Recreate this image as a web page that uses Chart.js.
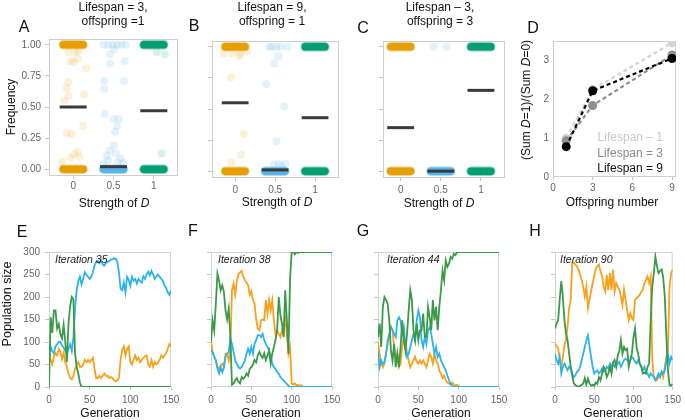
<!DOCTYPE html>
<html><head><meta charset="utf-8">
<script src="https://cdn.jsdelivr.net/npm/chart.js@4.4.1/dist/chart.umd.min.js"></script>
<style>
html,body{margin:0;padding:0;background:#fff;}
#wrap{position:relative;width:685px;height:420px;overflow:hidden;background:#fff;font-family:"Liberation Sans",Arial,Helvetica,sans-serif;}
#wrap canvas{position:absolute;left:0;top:0;}
.tx{position:absolute;white-space:nowrap;line-height:1;color:#111;}
</style></head><body><div id="wrap"></div>
<script>
// ---------- DATA ----------
const strengthLabels = ["0","0.5","1"];
const freqTicks = [0,0.25,0.5,0.75,1];
const freqLabels = ["0.00","0.25","0.50","0.75","1.00"];

// Panel A (Lifespan = 3, offspring = 1): levels with dense points, faint points [jitter, freq], means
const A_dense = [[0,1],[0],[0,1]];
const A_orange = [[-0.12,0.94],[0.05,0.94],[0.13,0.95],[-0.07,0.87],[0.02,0.86],[0.11,0.89],[0.32,0.81],[-0.12,0.70],[-0.16,0.65],[-0.12,0.59],[-0.22,0.55],[0.27,0.60],[0.25,0.35],[-0.16,0.29],[-0.04,0.28],[0.11,0.14],[0.02,0.12],[-0.07,0.09],[0.16,0.10],[-0.27,0.06]];
const A_blue = [[-0.25,1],[-0.13,1],[-0.02,1],[0.09,1],[0.2,1],[0.3,1],[0.02,0.965],[-0.09,0.925],[-0.09,0.85],[0.28,0.87],[-0.23,0.71],[-0.23,0.645],[0.26,0.71],[-0.21,0.445],[0.0,0.405],[0.14,0.405],[0.09,0.35],[0.04,0.30],[0.01,0.19],[-0.09,0.15],[0.06,0.125],[-0.17,0.11],[0.18,0.085],[-0.13,0.07],[0.1,0.055],[-0.25,0.045],[0.24,0.05]];
const A_green = [[0.07,0.94],[0.27,0.925],[0.19,0.125]];
const A_means = [0.50,0.02,0.47];

// Panel B (Lifespan = 9, offspring = 1)
const B_dense = [[0,1],[0],[0,1]];
const B_orange = [[-0.29,0.947],[-0.08,0.947],[0.12,0.947],[0.29,0.96],[0.11,0.925],[-0.1,0.755],[0.21,0.30],[0.15,0.133],[-0.1,0.07]];
const B_blue = [[-0.15,1],[-0.08,1],[0.04,1],[0.14,1],[0.31,1],[0.08,0.925],[-0.02,0.867],[-0.22,0.70],[0.23,0.52],[0.04,0.24],[-0.04,0.053],[0.08,0.06],[0.25,0.06],[0.16,0.04]];
const B_green = [];
const B_means = [0.55,0.01,0.43];

// Panel C (Lifespan = 3, offspring = 3)
const C_dense = [[0,1],[0],[0,1]];
const C_orange = [];
const C_blue = [[-0.18,1],[0.15,1]];
const C_green = [];
const C_means = [0.35,0.0,0.65];

// Panel D
const offspring = [1,3,9];
const D_life1 = [1.00,2.25,3.45];
const D_life3 = [0.93,1.84,3.14];
const D_life9 = [0.78,2.22,3.05];
const D_names = ["Lifespan \u2013 1","Lifespan = 3","Lifespan = 9"];

// Panels E-H: population size by generation
const gens = [0,2,4,6,8,10,12,14,16,18,20,22,24,26,28,30,32,34,36,38,40,42,44,46,48,50,52,54,56,58,60,62,64,66,68,70,72,74,76,78,80,82,84,86,88,90,92,94,96,98,100,102,104,106,108,110,112,114,116,118,120,122,124,126,128,130,132,134,136,138,140,142,144,146,148,150];

const E_orange = [80,60,50,68,75,70,85,80,62,75, 55,45,30,20,17,25,40,50,55,45, 45,50,60,55,60,55,60,65,40,20, 20,25,20,25,30,25,25,20,22,20, 15,13,15,20,60,82,90,70,85,90, 55,50,60,70,60,65,55,60,65,68, 70,50,45,60,45,55,50,55,60,70, 65,70,75,85,95,90];
const E_blue = [70,90,80,75,90,95,100,100,92,88, 80,75,85,95,80,110,175,215,235,245, 228,240,255,250,245,240,245,255,270,278, 280,275,282,272,270,276,278,280,283,284, 286,285,278,255,218,215,232,210,245,238, 225,245,236,240,230,240,235,232,246,240, 250,256,248,258,250,240,246,250,245,240, 236,226,220,210,205,215];
const E_green = [0,155,120,170,170,130,140,118,108,138, 100,55,140,180,200,195,75,45,30,10, 0,0,0,0,0,0,0,0,0,0, 0,0,0,0,0,0,0,0,0,0, 0,0,0,0,0,0,0,0,0,0, 0,0,0,0,0,0,0,0,0,0, 0,0,0,0,0,0,0,0,0,0, 0,0,0,0,0,0];

const F_orange = [107,74,67,59,44,41,48,52,45,74, 74,59,80,215,230,205,235,250,255,258, 245,238,232,226,205,212,193,185,150,130, 126,148,150,148,193,163,193,170,193,148, 115,126,118,111,126,118,159,118,74,89, 8,5,8,3,5,2,4,0,0,0, 0,0,0,0,0,0,0,0,0,0, 0,0,0,0,0,0];
const F_blue = [81,78,67,60,41,30,44,33,44,67, 74,78,107,96,78,59,52,44,41,44, 52,59,74,85,74,89,74,96,104,115, 115,111,118,104,96,89,81,67,52,44, 40,33,30,22,18,15,10,7,3,0, 0,0,0,0,0,0,0,0,0,0, 0,0,0,0,0,0,0,0,0,0, 0,0,0,0,0,0];
const F_green = [100,148,126,185,252,237,215,226,211,170, 150,174,111,5,8,15,20,12,8,22, 18,22,30,25,40,44,50,60,55,70, 78,70,65,75,60,70,81,52,75,89, 105,126,200,160,140,111,215,150,74,240, 300,300,295,300,298,300,300,300,300,300, 300,300,300,300,300,300,300,300,300,300, 300,300,300,300,300,300];

const G_orange = [100,74,52,44,52,74,96,118,135,126, 89,59,74,44,52,89,111,104,74,59, 44,52,59,67,56,52,59,52,59,52, 44,59,74,67,52,74,59,52,37,30, 20,25,15,10,8,5,10,6,3,5, 2,0,0,0,0,0,0,0,0,0, 0,0,0,0,0,0,0,0,0,0, 0,0,0,0,0,0];
const G_blue = [81,44,59,52,56,74,104,118,133,126, 118,111,148,155,148,118,133,89,67,74, 89,104,118,104,148,170,155,104,89,111, 96,126,133,118,96,74,89,67,74,59, 52,44,37,25,15,7,3,0,0,0, 0,0,0,0,0,0,0,0,0,0, 0,0,0,0,0,0,0,0,0,0, 0,0,0,0,0,0];
const G_green = [111,141,89,178,200,193,185,148,81,59, 96,44,74,44,89,148,104,81,118,170, 215,193,126,104,141,104,126,126,163,111, 111,178,155,126,193,148,178,126,178,215, 259,237,281,267,274,289,285,296,293,300, 300,300,300,300,300,300,300,300,300,300, 300,300,300,300,300,300,300,300,300,300, 300,300,300,300,300,300];

const H_orange = [97,91,86,60,45,67,93,104,134,175, 194,276,276,272,268,261,249,238,223,201, 223,175,194,212,231,246,264,268,272,257, 246,223,212,249,216,253,216,261,212,231, 223,216,201,182,216,194,171,149,164,153, 149,194,197,201,205,212,216,231,238,246, 231,246,60,22,15,15,22,26,33,22, 45,67,82,223,253,261];
const H_blue = [74,60,52,67,30,45,52,45,37,45, 41,30,22,26,34,37,45,60,74,89, 104,115,89,67,45,30,34,37,30,34, 41,34,37,45,41,52,45,52,45,48, 52,56,45,52,60,63,60,56,60,67, 63,56,52,60,52,45,37,45,34,30, 22,30,26,22,15,22,30,22,34,30, 37,60,74,52,67,60];
const H_green = [130,141,149,194,235,201,149,119,104,74, 45,25,8,4,2,0,3,5,8,20, 5,19,8,3,5,3,10,7,22,15, 30,45,40,22,30,45,30,55,60,45, 70,80,104,74,89,82,85,45,60,74, 110,130,89,74,52,45,30,32,30,45, 52,149,223,253,290,268,253,258,261,242, 200,112,37,4,3,7];

const popTicks = [0,50,100,150,200,250,300];
const genTicks = [0,50,100,150];

// ---------- RENDERING ----------
const W = 685, H = 420;
const wrap = document.getElementById('wrap');
const TICKFONT = {family:'"Liberation Sans", Arial, sans-serif', size:10};
const TICKCOL = '#666666';

function addCanvas(){
  const c = document.createElement('canvas');
  c.width = W; c.height = H; c.style.width = W+'px'; c.style.height = H+'px';
  wrap.appendChild(c); return c.getContext('2d');
}
const frame = {
  id:'frame',
  beforeDatasetsDraw(ch, args, opts){
    const a = ch.chartArea, ctx = ch.ctx;
    ctx.save(); ctx.strokeStyle = opts.color || '#cfcfcf'; ctx.lineWidth = 1;
    ctx.strokeRect(a.left+0.5, a.top+0.5, a.right-a.left-1, a.bottom-a.top-1);
    ctx.restore();
  }
};
const YW = 30, XH = 20;
function pad(box){ return {left:box.l-YW, top:box.t, right:W-box.r, bottom:H-box.b-XH}; }
function axis(min, max, vals, labels, isY, tl, tp){
  const o = {
    type:'linear', min:min, max:max,
    afterBuildTicks: s => { s.ticks = vals.map(v => ({value:v})); },
    ticks:{ callback:(v,i) => labels ? labels[i] : '', font:TICKFONT, color:TICKCOL, padding:tp, autoSkip:false, maxRotation:0, minRotation:0 },
    grid:{ display:true, drawOnChartArea:false, tickLength:tl, color:'#c4c4c4' },
    border:{ display:false }
  };
  if (isY) o.afterFit = s => { s.width = YW; }; else o.afterFit = s => { s.height = XH; };
  return o;
}
function baseOpts(box, scales, frameCol){
  return {
    responsive:false, animation:false, devicePixelRatio:1, events:[],
    layout:{ padding: pad(box) },
    plugins:{ legend:{display:false}, tooltip:{enabled:false}, title:{display:false}, frame:{color:frameCol} },
    scales: scales
  };
}

const stripCol = ['#E69F00','#56B4E9','#009E73'];
const stripFaint = ['rgba(230,159,0,0.15)','rgba(86,180,233,0.17)','rgba(0,158,115,0.15)'];
const stripHalo = ['rgba(230,159,0,0.45)','rgba(86,180,233,0.5)','rgba(0,158,115,0.45)'];
const PILL = 0.245, MEANW = 0.335;

function stripChart(box, xmin, dense, faint, means, showY, xtp){
  const ds = [];
  faint.forEach((pts,c) => ds.push({ data: pts.map(p => ({x:c+p[0], y:p[1]})), showLine:false, pointRadius:4, pointBorderWidth:0, pointBackgroundColor:stripFaint[c], order:3 }));
  dense.forEach((levels,c) => levels.forEach(v => {
    const seg = [{x:c-PILL,y:v},{x:c+PILL,y:v}];
    ds.push({ data:seg, showLine:true, borderColor:stripHalo[c], borderWidth:9.5, borderCapStyle:'round', pointRadius:0, order:2 });
    ds.push({ data:seg, showLine:true, borderColor:stripCol[c], borderWidth:7.5, borderCapStyle:'round', pointRadius:0, order:1 });
  }));
  means.forEach((m,c) => ds.push({ data:[{x:c-MEANW,y:m},{x:c+MEANW,y:m}], showLine:true, borderColor:'#3a3a3a', borderWidth:3, borderCapStyle:'butt', pointRadius:0, order:0 }));
  new Chart(addCanvas(), {
    type:'scatter', data:{ datasets: ds }, plugins:[frame],
    options: baseOpts(box, {
      x: axis(xmin, 2.6, [0,1,2], strengthLabels, false, 3, xtp),
      y: axis(-0.055, 1.047, freqTicks, showY ? freqLabels : null, true, 4, 4)
    }, '#cfcfcf')
  });
}

stripChart({l:49,r:178,t:39,b:176}, -0.6, A_dense, [A_orange,A_blue,A_green], A_means, true, 1);
stripChart({l:212,r:339,t:41,b:178}, -0.58, B_dense, [B_orange,B_blue,B_green], B_means, false, 3);
stripChart({l:383,r:505,t:41,b:178}, -0.44, C_dense, [C_orange,C_blue,C_green], C_means, false, 3);

// Panel D
(function(){
  const cols = ['#d4d4d4','#8e8e8e','#000000'];
  const series = [D_life1, D_life3, D_life9];
  const ds = series.map((s,i) => ({
    data: s.map((v,j) => ({x:offspring[j], y:v})), showLine:true,
    borderColor:cols[i], borderWidth:2.2, borderDash:[4,3],
    pointRadius:4.5, pointBackgroundColor:cols[i], pointBorderWidth:0, order:2-i
  }));
  new Chart(addCanvas(), {
    type:'scatter', data:{datasets:ds}, plugins:[frame],
    options: baseOpts({l:553,r:676,t:41,b:177}, {
      x: axis(0, 9.3, [0,3,6,9], ["0","3","6","9"], false, 3, 2),
      y: axis(0, 3.5, [0,1,2,3], ["0","1","2","3"], true, 0, 4)
    }, '#cfcfcf')
  });
})();

// Panels E-H
const lineCol = {orange:'#F9A11B', blue:'#2AB3EE', green:'#3A9A48'};
function popChart(box, orange, blue, green, showY){
  const mk = (arr, col, ord) => ({ data: arr.map((v,i) => ({x:gens[i], y:v})), showLine:true, borderColor:col, borderWidth:1.8, pointRadius:0, order:ord });
  new Chart(addCanvas(), {
    type:'scatter', data:{ datasets:[ mk(green,lineCol.green,0), mk(blue,lineCol.blue,1), mk(orange,lineCol.orange,2) ] }, plugins:[frame],
    options: baseOpts(box, {
      x: axis(0, 150, genTicks, ["0","50","100","150"], false, 3, 4),
      y: axis(0, 300, popTicks, showY ? ["0","50","100","150","200","250","300"] : null, true, 4, 5)
    }, '#d2d2d2')
  });
}
popChart({l:49,r:171,t:252,b:387}, E_orange, E_blue, E_green, true);
popChart({l:211,r:332,t:252,b:387}, F_orange, F_blue, F_green, false);
popChart({l:378,r:499,t:252,b:387}, G_orange, G_blue, G_green, false);
popChart({l:555,r:676,t:252,b:387}, H_orange, H_blue, H_green, false);

// ---------- TEXT ----------
function txt(html, x, y, size, o){
  o = o || {};
  const d = document.createElement('div');
  d.className = 'tx'; d.innerHTML = html;
  d.style.left = x+'px'; d.style.top = y+'px'; d.style.fontSize = size+'px';
  if (o.color) d.style.color = o.color;
  if (o.italic) d.style.fontStyle = 'italic';
  let t = 'translate(-50%,-50%)';
  if (o.align === 'left') t = 'translate(0,-50%)';
  if (o.align === 'right') t = 'translate(-100%,-50%)';
  if (o.rot) t += ' rotate(-90deg)';
  d.style.transform = t;
  wrap.appendChild(d);
}
// panel letters
[["A",24,27],["B",194,26],["C",363,28],["D",533,28],["E",22,232],["F",193,231],["G",363,231],["H",535,231]].forEach(p => txt(p[0], p[1], p[2], 16));
// titles
txt("Lifespan = 3,", 113, 7, 12); txt("offspring =1", 113, 21, 12);
txt("Lifespan = 9,", 272, 7, 12); txt("offspring = 1", 272, 21, 12);
txt("Lifespan \u2013 3,", 440, 7, 12); txt("offspring = 3", 440, 21, 12);
// axis titles
txt("Strength of <i>D</i>", 114, 203, 12);
txt("Strength of <i>D</i>", 277, 202, 12);
txt("Strength of <i>D</i>", 439, 203, 12);
txt("Offspring number", 612, 202, 12);
txt("Frequency", 11, 107, 12, {rot:true});
txt("(Sum <i>D</i>=1)/(Sum <i>D</i>=0)", 526, 100, 12, {rot:true});
txt("Population size", 7, 304, 12.5, {rot:true});
[110,271,441,613].forEach(x => txt("Generation", x, 413, 12));
// legend of D
const legCols = ['#c9c9c9','#8a8a8a','#111111'];
[137,152.5,168].forEach((y,i) => txt(D_names[i], 663, y, 12, {align:'right', color:legCols[i]}));
// iteration labels
[["Iteration 35",55],["Iteration 38",218],["Iteration 44",387],["Iteration 90",560]].forEach(p => txt(p[0], p[1], 259, 10.5, {align:'left', italic:true, color:'#222'}));
</script></body></html>
